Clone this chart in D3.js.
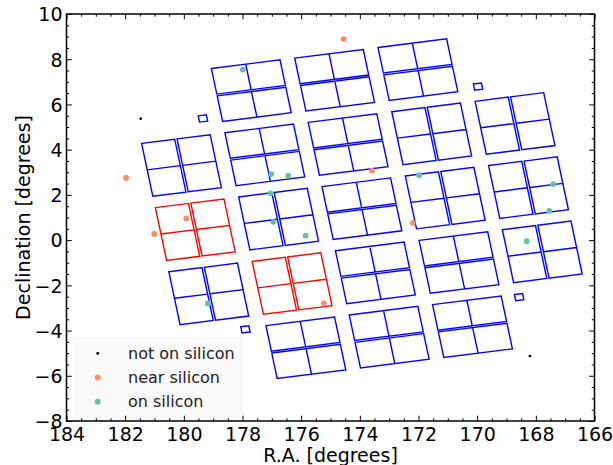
<!DOCTYPE html>
<html><head><meta charset="utf-8">
<script src="https://cdn.jsdelivr.net/npm/d3@7"></script>
<style>body{margin:0;background:#fff}svg{display:block}text{font-family:"DejaVu Sans",sans-serif}</style>
</head><body><svg id="c" width="613" height="465"></svg>
<script>
// ---- data (degrees) ----
const moduleRA  = [177.70,174.86,172.02, 180.08,177.24,174.40,171.55,168.71, 179.61,176.77,173.93,171.09,168.25, 179.15,176.31,173.47,170.62,167.78, 175.84,173.00,170.16];
const moduleDec = [6.61,7.07,7.54, 3.30,3.77,4.23,4.70,5.16, 0.46,0.93,1.39,1.86,2.32, -2.38,-1.92,-1.45,-0.99,-0.52, -4.76,-4.29,-3.83];
const moduleLayout = ['h','h','h', 'v','h','h','v','v', 'v','v','h','v','v', 'v','v','h','h','v', 'h','h','h'];
const moduleDead = [0,0,0, 0,0,0,0,0, 1,0,0,0,0, 0,1,0,0,0, 0,0,0];
const fgsRA  = [179.35,169.97,168.57,177.90];
const fgsDec = [5.38,6.79,-2.52,-3.95];
const notOnRA = [181.47,168.20];
const notOnDec = [5.37,-5.13];
const nearRA = [174.55,181.97,181.01,179.92,173.59,172.19,175.23];
const nearDec = [8.89,2.75,0.27,0.96,3.07,0.76,-2.80];
const onRA = [177.99,177.02,176.44,177.04,176.95,175.85,171.98,179.18,167.41,167.54,168.31];
const onDec = [7.54,2.92,2.85,2.07,0.81,0.20,2.87,-2.80,2.47,1.29,-0.05];
const xTicks = [184,182,180,178,176,174,172,170,168,166];
const yTicks = [-8,-6,-4,-2,0,2,4,6,8,10];
const legendLabels = ["not on silicon","near silicon","on silicon"];

// ---- geometry constants ----
const ROT = 9.3*Math.PI/180, SIZE = 2.37, GAP = 0.08, FGS = 0.28;
const L = 66.5, R = 594.5, T = 14, B = 421;
const svg = d3.select("#c");
const x = d3.scaleLinear().domain([184,166]).range([L,R]);
const y = d3.scaleLinear().domain([-8,10]).range([B,T]);

function sky(ra, dec, u, v){
  const c = Math.cos(ROT), s = Math.sin(ROT);
  return [x(ra - (u*c + v*s)), y(dec + (u*s - v*c))];
}
function poly(ra, dec, u0, u1, v0, v1){
  const pts = [[u0,v0],[u1,v0],[u1,v1],[u0,v1]].map(p=>sky(ra,dec,p[0],p[1]));
  return "M" + pts.map(p=>p[0].toFixed(2)+","+p[1].toFixed(2)).join("L") + "Z";
}
function seg(ra, dec, u0, v0, u1, v1){
  const a = sky(ra,dec,u0,v0), b = sky(ra,dec,u1,v1);
  return "M"+a[0].toFixed(2)+","+a[1].toFixed(2)+"L"+b[0].toFixed(2)+","+b[1].toFixed(2);
}

const gMod = svg.append("g").attr("fill","none").attr("stroke-width",1.4).attr("stroke-linejoin","miter");
const h = SIZE/2, g = GAP/2;
moduleRA.forEach((ra,i)=>{
  const dec = moduleDec[i];
  const col = moduleDead[i] ? "#ff0000" : "#0000ff";
  let d;
  if (moduleLayout[i]==='h'){
    d = poly(ra,dec,-h,h,-h,-g) + poly(ra,dec,-h,h,g,h) + seg(ra,dec,0,-h,0,-g) + seg(ra,dec,0,g,0,h);
  } else {
    d = poly(ra,dec,-h,-g,-h,h) + poly(ra,dec,g,h,-h,h) + seg(ra,dec,-h,0,-g,0) + seg(ra,dec,g,0,h,0);
  }
  gMod.append("path").attr("d",d).attr("stroke",col);
});
fgsRA.forEach((ra,i)=>{
  gMod.append("path").attr("d",poly(ra,fgsDec[i],-FGS/2,FGS/2,-FGS/2,FGS/2)).attr("stroke","#0000ff");
});

// points
const gPts = svg.append("g");
notOnRA.forEach((ra,i)=>gPts.append("circle").attr("cx",x(ra)).attr("cy",y(notOnDec[i])).attr("r",1.4).attr("fill","#000"));
nearRA.forEach((ra,i)=>gPts.append("circle").attr("cx",x(ra)).attr("cy",y(nearDec[i])).attr("r",2.9).attr("fill","#fc8d62"));
onRA.forEach((ra,i)=>gPts.append("circle").attr("cx",x(ra)).attr("cy",y(onDec[i])).attr("r",2.9).attr("fill","#66c2a5"));

// legend
const gl = svg.append("g");
gl.append("rect").attr("x",73).attr("y",337).attr("width",170).attr("height",82).attr("fill","#f9f9f9");
const lcol = ["#000","#fc8d62","#66c2a5"], lr = [1.4,2.9,2.9];
legendLabels.forEach((t,i)=>{
  const cy = 353.3 + i*24.2;
  gl.append("circle").attr("cx",97.7).attr("cy",cy).attr("r",lr[i]).attr("fill",lcol[i]);
  gl.append("text").attr("x",128).attr("y",cy).attr("dy","0.36em").attr("font-size",16).attr("fill","#222").text(t);
});

// axes with inward ticks on all sides
const minorX = d3.range(166,184.01,0.5).filter(v=>Math.abs(v/2-Math.round(v/2))>1e-6);
const minorY = d3.range(-8,10.01,0.5).filter(v=>Math.abs(v/2-Math.round(v/2))>1e-6);
const fmt = d3.format("d");
function ax(axisFn, scale, ticks, minor, tr, labels){
  const gA = svg.append("g").attr("transform",tr);
  gA.call(axisFn(scale).tickValues(minor).tickSize(-2.7).tickFormat(""));
  const gB = svg.append("g").attr("transform",tr);
  gB.call(axisFn(scale).tickValues(ticks).tickSize(-5.3).tickPadding(labels?11:0).tickFormat(labels?fmt:""));
  [gA,gB].forEach(gg=>{gg.select(".domain").remove(); gg.selectAll("line").attr("stroke","#000").attr("stroke-width",1);});
  gB.selectAll("text").attr("font-size",19).attr("fill","#000").attr("font-family","DejaVu Sans");
  return gB;
}
const lx = ax(d3.axisBottom, x, xTicks, minorX, `translate(0,${B})`, true);
lx.selectAll("text").attr("y",6.5).attr("dy","0.71em");
ax(d3.axisTop, x, xTicks, minorX, `translate(0,${T})`, false);
const ly = ax(d3.axisLeft, y, yTicks, minorY, `translate(${L},0)`, true);
ly.selectAll("text").attr("x",-4).attr("dy","0.36em");
ax(d3.axisRight, y, yTicks, minorY, `translate(${R},0)`, false);

svg.append("rect").attr("x",L).attr("y",T).attr("width",R-L).attr("height",B-T).attr("fill","none").attr("stroke","#000").attr("stroke-width",1.5);

svg.append("text").attr("x",(L+R)/2).attr("y",462).attr("text-anchor","middle").attr("font-size",19).text("R.A. [degrees]");
svg.append("text").attr("transform",`translate(30,${(T+B)/2}) rotate(-90)`).attr("text-anchor","middle").attr("font-size",19).text("Declination [degrees]");
</script></body></html>
